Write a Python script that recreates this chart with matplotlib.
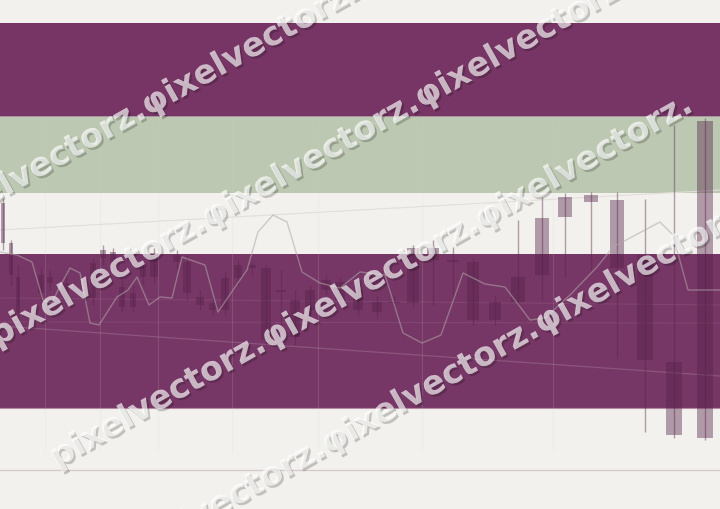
import matplotlib
matplotlib.use("Agg")
import matplotlib.pyplot as plt
import matplotlib.patheffects as pe
import numpy as np

# ---- data (vertical unit = screen level, top = 0) ----
candle_x = [3, 11, 18, 41, 50, 66, 93, 103, 113, 122, 133, 143, 154, 177, 187, 200, 213, 225, 238, 252,
            266, 281, 295, 310, 326, 340, 358, 377, 394, 413, 433, 453, 473, 495, 518, 542, 565, 591, 617, 645,
            674, 705]
body_top = [203, 243, 277, 275, 277, 283, 263, 250, 252, 287, 293, 267, 253, 255, 262, 297, 303, 278, 265, 265,
            268, 290, 300, 290, 280, 282, 290, 302, 302, 248, 248, 260, 262, 302, 277, 218, 197, 195, 200, 255,
            362, 121]
body_bot = [243, 275, 313, 293, 283, 300, 298, 258, 262, 307, 307, 277, 277, 262, 293, 305, 310, 310, 278, 268,
            340, 292, 337, 310, 290, 300, 310, 312, 303, 303, 260, 262, 320, 320, 302, 275, 217, 202, 268, 360,
            435, 438]
wick_top = [198, 240, 265, 268, 270, 275, 258, 245, 248, 280, 285, 262, 248, 250, 255, 290, 298, 272, 260, 262,
            265, 270, 290, 285, 275, 277, 285, 296, 296, 245, 240, 247, 258, 295, 220, 197, 193, 192, 192, 199,
            125, 118]
wick_bot = [250, 285, 320, 300, 290, 305, 305, 265, 270, 312, 312, 285, 282, 270, 300, 310, 315, 315, 285, 275,
            345, 330, 345, 315, 295, 305, 315, 318, 308, 308, 305, 300, 325, 325, 305, 300, 277, 270, 358, 432,
            438, 440]

line_x = [0, 17, 32, 43, 52, 58, 70, 80, 90, 99, 117, 128, 137, 149, 160, 172, 182, 205, 218, 233, 247,
          258, 273, 287, 302, 320, 340, 360, 385, 403, 422, 441, 463, 485, 505, 530, 545, 570, 597, 613,
          660, 673, 688, 720]
line_y = [252, 255, 262, 300, 303, 290, 268, 273, 323, 325, 297, 290, 277, 305, 297, 298, 257, 265, 312, 290, 270,
          232, 215, 222, 272, 283, 288, 272, 275, 333, 343, 335, 273, 284, 287, 320, 318, 295, 267, 247,
          222, 235, 290, 290]

trend_x = [0, 720]
trend_upper = [230, 190]
trend_lower = [326, 376]
trend_mid1 = [298, 305]
trend_mid2 = [322, 323]

band_ranges = [(23, 116), (116, 193), (254, 408)]
band_colors = ["#763565", "#bcc8b1", "#773766"]
grid_x = [45, 100, 158, 232, 318, 422, 553]
base_level = 470

wm_text = ["pixelvectorz.\u03c6ixelvectorz.",
           "pixelvectorz.\u03c6ixelvectorz.\u03c6ixelvectorz.",
           "pixelvectorz.\u03c6ixelvectorz.\u03c6ixelvectorz.",
           "pixelvectorz.\u03c6ixelvectorz.\u03c6ixelvectorz."]
wm_start = [(-63, 235), (-3, 347), (57, 468), (117, 573)]

# ---- figure ----
W, H = 720, 509
fig = plt.figure(figsize=(7.2, 5.09), dpi=100)
fig.patch.set_facecolor("#f2f1ed")
ax = fig.add_axes([0, 0, 1, 1])
ax.set_facecolor("#f2f1ed")
ax.set_xlim(0, W)
ax.set_ylim(H, 0)
ax.axis("off")

for (a, b), c in zip(band_ranges, band_colors):
    ax.axhspan(a, b, color=c, zorder=0.5, lw=0)
ax.axhline(408, color="#b48aa6", lw=0.8, zorder=0.6)
ax.axhline(116, color="#a58a9c", lw=0.6, zorder=0.6)
ax.axhline(base_level, color="#d6c9cc", lw=1.0, zorder=0.6)

ax.vlines(grid_x, 120, 452, color="#d9d2d2", alpha=0.15, lw=0.8, zorder=0.7)

ax.plot(trend_x, trend_upper, color="#e2dfda", lw=0.8, zorder=0.8)
ax.plot(trend_x, trend_lower, color="white", alpha=0.15, lw=0.9, zorder=0.8)
ax.plot(trend_x, trend_mid1, color="white", alpha=0.07, lw=0.8, zorder=0.8)
ax.plot(trend_x, trend_mid2, color="white", alpha=0.07, lw=0.8, zorder=0.8)

cx = np.array(candle_x, dtype=float)
bt = np.array(body_top, dtype=float)
bb = np.array(body_bot, dtype=float)
widths = 4.5 + 0.017 * cx
ccol = "#552249"
ax.vlines(cx, wick_top, wick_bot, color=ccol, alpha=0.42, lw=1.0, zorder=1.0)
ax.bar(cx, bb - bt, bottom=bt, width=widths, color=ccol, alpha=0.42, lw=0, zorder=1.1)

ax.plot(line_x, line_y, color="#b0a8a8", alpha=0.55, lw=1.0, zorder=1.2)

for s, (x0, y0) in zip(wm_text, wm_start):
    t = fig.text(x0 / W, 1 - y0 / H, s, fontsize=24, fontweight="bold",
                 family="DejaVu Sans", color=(1, 1, 1, 0.42), rotation=29.3,
                 rotation_mode="anchor", ha="left", va="baseline", zorder=5)
    t.set_path_effects([pe.withSimplePatchShadow(offset=(1.5, -1.5), shadow_rgbFace="black", alpha=0.2),
                        pe.Normal()])

fig.savefig("out.png", dpi=100, facecolor=fig.get_facecolor())
